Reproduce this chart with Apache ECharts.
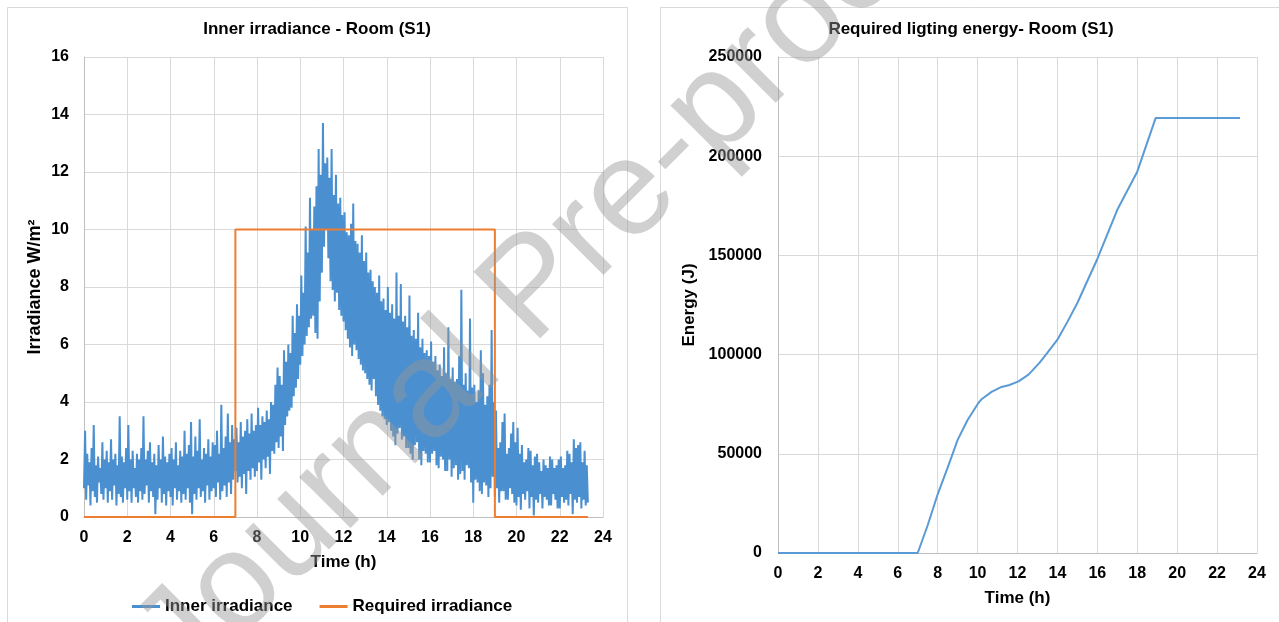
<!DOCTYPE html>
<html>
<head>
<meta charset="utf-8">
<script src="https://cdn.jsdelivr.net/npm/echarts@6/dist/echarts.min.js"></script>
<style>
html,body{margin:0;padding:0;background:#fff}
#main{width:1279px;height:622px}
</style>
</head>
<body>
<div id="main"></div>
<script>
'use strict';
// inner irradiance (W/m2), every 0.05 h starting at 0 h (one row per hour)
var irrStep = 0.05;
var irrValues = [
	1.0, 3.0, 0.6, 2.2, 1.1, 1.9, 0.4, 2.4, 0.9, 3.2, 0.7, 1.8, 0.5, 2.1, 1.2, 1.7, 0.8, 2.6, 0.6, 2.0,
	1.0, 2.3, 0.5, 1.9, 0.9, 2.7, 0.6, 2.0, 1.1, 2.2, 0.4, 1.8, 0.8, 3.5, 0.7, 2.1, 0.5, 1.9, 1.0, 2.4,
	0.6, 3.2, 0.9, 2.0, 0.5, 2.3, 1.0, 1.7, 0.7, 2.2, 0.5, 2.0, 0.9, 2.4, 0.6, 3.5, 0.8, 2.0, 1.1, 2.3,
	0.5, 2.6, 0.9, 1.9, 0.7, 2.2, 0.1, 1.8, 0.6, 2.5, 1.0, 2.0, 0.5, 2.8, 0.8, 2.1, 0.4, 1.9, 0.9, 2.2,
	0.7, 2.4, 0.4, 2.0, 1.0, 2.6, 0.6, 1.8, 0.9, 2.3, 0.5, 2.1, 0.8, 3.0, 0.6, 2.2, 1.0, 2.5, 0.5, 3.3,
	0.1, 2.1, 0.8, 2.8, 0.6, 2.3, 1.0, 3.4, 0.7, 2.0, 0.9, 2.4, 0.5, 2.2, 1.1, 2.7, 0.6, 2.1, 0.9, 2.6,
	1.0, 2.5, 0.7, 3.0, 1.2, 2.2, 0.6, 3.9, 0.9, 2.4, 1.1, 2.8, 0.7, 3.6, 1.2, 2.6, 0.8, 3.2, 1.3, 2.7,
	1.6, 3.1, 1.2, 2.6, 1.4, 3.3, 1.0, 2.8, 1.5, 3.0, 0.8, 3.4, 1.6, 2.9, 1.3, 3.6, 1.7, 3.0, 1.4, 3.2,
	1.6, 3.8, 1.9, 3.2, 1.3, 3.5, 2.0, 3.3, 1.7, 3.7, 2.1, 3.4, 1.5, 4.0, 2.3, 3.9, 2.2, 4.6, 2.6, 5.2,
	2.4, 4.9, 2.8, 4.6, 2.3, 5.8, 3.2, 5.4, 3.5, 6.0, 3.7, 5.7, 3.8, 7.0, 4.2, 6.4, 4.5, 7.4, 4.8, 7.0,
	5.3, 8.4, 5.6, 7.8, 6.0, 10.1, 6.3, 9.2, 6.6, 11.1, 6.9, 10.0, 7.0, 10.8, 6.4, 11.5, 6.2, 12.8, 7.5, 11.9,
	8.5, 13.7, 9.4, 12.3, 10.0, 12.5, 9.0, 11.8, 8.2, 12.8, 7.9, 11.2, 7.5, 11.9, 7.8, 10.9, 7.2, 11.1, 7.0, 10.5,
	6.8, 10.6, 6.5, 9.9, 6.2, 9.8, 5.9, 10.2, 5.6, 10.9, 6.0, 9.6, 5.8, 9.5, 5.5, 9.2, 5.3, 9.8, 5.1, 8.9,
	5.0, 9.2, 4.8, 8.5, 4.6, 8.6, 4.4, 8.2, 4.8, 8.0, 4.2, 7.8, 3.9, 8.4, 3.7, 7.5, 3.5, 7.6, 3.4, 7.2,
	3.2, 8.0, 3.3, 7.1, 3.0, 7.4, 2.8, 6.9, 2.5, 8.5, 2.9, 7.0, 3.1, 8.1, 2.7, 6.8, 2.8, 7.0, 2.4, 6.6,
	2.4, 7.7, 2.2, 6.3, 2.0, 6.5, 2.5, 6.2, 2.6, 7.1, 2.0, 5.9, 1.8, 6.2, 2.3, 5.7, 2.2, 5.8, 1.9, 5.6,
	1.9, 6.1, 2.2, 5.4, 2.3, 5.6, 1.8, 5.1, 1.7, 5.3, 2.1, 4.9, 2.0, 5.9, 1.6, 5.0, 1.6, 6.6, 2.0, 4.8,
	1.4, 5.2, 1.7, 4.7, 1.8, 4.8, 1.3, 5.6, 1.5, 7.9, 1.6, 4.6, 1.3, 5.0, 1.8, 4.4, 1.7, 6.9, 1.2, 4.5,
	0.5, 4.6, 1.3, 4.0, 1.2, 4.4, 0.9, 5.8, 0.8, 5.0, 1.2, 3.9, 1.1, 4.2, 0.7, 4.6, 1.0, 6.5, 1.4, 4.0,
	0.7, 3.7, 1.0, 2.4, 0.5, 2.6, 0.9, 3.3, 0.9, 3.6, 0.6, 2.2, 0.6, 2.4, 1.0, 2.9, 0.8, 3.3, 0.5, 2.6,
	0.4, 3.1, 0.7, 2.2, 0.25, 2.5, 0.8, 1.9, 0.6, 2.0, 0.9, 2.4, 0.3, 2.3, 0.7, 1.8, 0.05, 2.1, 0.6, 2.2,
	0.5, 1.9, 0.8, 1.6, 0.3, 2.0, 0.7, 1.8, 0.6, 1.7, 0.4, 2.1, 0.4, 2.0, 0.8, 1.7, 0.6, 1.8, 0.3, 2.0,
	0.3, 2.1, 0.7, 1.7, 0.5, 1.8, 0.6, 2.3, 0.4, 2.2, 0.8, 1.9, 0.1, 2.7, 0.6, 2.4, 0.5, 2.5, 0.7, 2.6,
	0.3, 1.9, 0.6, 2.3, 0.4, 1.8, 0.5
];
// required irradiance step (W/m2)
var reqTime = [0, 7, 7, 19, 19, 23.3];
var reqValues = [0, 0, 10, 10, 0, 0];
// cumulative required lighting energy (J)
var energyTime = [0, 7, 7.5, 8, 8.5, 8.75, 9, 9.5, 10, 10.2, 10.7, 11.2, 11.6, 12.05, 12.55, 13.1, 13.55, 14, 14.5, 15, 15.3, 16, 17, 18, 18.92, 23.15];
var energyValues = [0, 0, 14000, 29600, 43000, 50000, 57000, 67000, 75000, 77500, 81200, 83700, 84700, 86500, 89900, 95800, 101600, 107500, 116500, 126000, 132700, 148200, 173000, 192200, 219200, 219200];

var titles = ['Inner irradiance - Room (S1)', 'Required ligting energy- Room (S1)'];
var legendNames = ['Inner irradiance', 'Required irradiance'];

var FONT = '"Liberation Sans", Arial, sans-serif';
var gridColor = '#d9d9d9';

function pairs(xs, ys) {
	var out = [];
	for (var i = 0; i < ys.length; i++) {
		out.push([xs[i], ys[i]]);
	}
	return out;
}

var irrData = [];
for (var i = 0; i < irrValues.length; i++) {
	irrData.push([+(i * irrStep).toFixed(2), irrValues[i]]);
}

function hourAxis(gridIndex) {
	return {
		type: 'value',
		gridIndex: gridIndex,
		min: 0,
		max: 24,
		interval: 2,
		name: 'Time (h)',
		nameLocation: 'middle',
		nameGap: 37,
		nameTextStyle: {fontFamily: FONT, fontSize: 17, fontWeight: 'bold', color: '#000'},
		axisLine: {show: true, lineStyle: {color: '#bfbfbf', width: 1}},
		axisTick: {show: false},
		axisLabel: {fontFamily: FONT, fontSize: 16, fontWeight: 'bold', color: '#000', margin: 13},
		splitLine: {show: true, lineStyle: {color: gridColor, width: 1}}
	};
}

var chart = echarts.init(document.getElementById('main'));

var option = {
	animation: false,
	backgroundColor: '#fff',
	grid: [
		{left: 84, top: 57, width: 519, height: 460, outerBoundsMode: 'none'},
		{left: 778, top: 57, width: 479, height: 496, outerBoundsMode: 'none'}
	],
	legend: {
		data: legendNames,
		left: 127,
		top: 593,
		icon: 'rect',
		itemWidth: 28,
		itemHeight: 3,
		itemGap: 27,
		textStyle: {fontFamily: FONT, fontSize: 17, fontWeight: 'bold', color: '#000'}
	},
	xAxis: [hourAxis(0), hourAxis(1)],
	yAxis: [
		{
			type: 'value',
			gridIndex: 0,
			min: 0,
			max: 16,
			interval: 2,
			name: 'Irradiance W/m²',
			nameLocation: 'middle',
			nameGap: 40,
			nameTextStyle: {fontFamily: FONT, fontSize: 18, fontWeight: 'bold', color: '#000'},
			axisLine: {show: true, lineStyle: {color: '#bfbfbf'}},
			axisTick: {show: false},
			axisLabel: {fontFamily: FONT, fontSize: 16, fontWeight: 'bold', color: '#000', margin: 15},
			splitLine: {show: true, lineStyle: {color: gridColor}}
		},
		{
			type: 'value',
			gridIndex: 1,
			min: 0,
			max: 250000,
			interval: 50000,
			name: 'Energy (J)',
			nameLocation: 'middle',
			nameGap: 80,
			nameTextStyle: {fontFamily: FONT, fontSize: 17, fontWeight: 'bold', color: '#000'},
			axisLine: {show: true, lineStyle: {color: '#bfbfbf'}},
			axisTick: {show: false},
			axisLabel: {
				fontFamily: FONT, fontSize: 16, fontWeight: 'bold', color: '#000', margin: 16,
				formatter: function (v) { return String(v); }
			},
			splitLine: {show: true, lineStyle: {color: gridColor}}
		}
	],
	series: [
		{
			name: 'Inner irradiance',
			type: 'line',
			xAxisIndex: 0,
			yAxisIndex: 0,
			showSymbol: false,
			lineStyle: {color: '#4a8fd0', width: 2},
			itemStyle: {color: '#4a8fd0'},
			data: irrData,
			z: 2
		},
		{
			name: 'Required irradiance',
			type: 'line',
			xAxisIndex: 0,
			yAxisIndex: 0,
			showSymbol: false,
			lineStyle: {color: '#ed7d31', width: 2},
			itemStyle: {color: '#ed7d31'},
			data: pairs(reqTime, reqValues),
			z: 3
		},
		{
			name: 'Energy',
			type: 'line',
			xAxisIndex: 1,
			yAxisIndex: 1,
			showSymbol: false,
			lineStyle: {color: '#5b9bd5', width: 2},
			itemStyle: {color: '#5b9bd5'},
			data: pairs(energyTime, energyValues)
		}
	],
	graphic: [
		// panel frames
		{type: 'rect', shape: {x: 7.5, y: 7.5, width: 620, height: 630}, style: {fill: 'none', stroke: '#d9d9d9', lineWidth: 1}, z: -10},
		{type: 'rect', shape: {x: 660.5, y: 7.5, width: 640, height: 630}, style: {fill: 'none', stroke: '#d9d9d9', lineWidth: 1}, z: -10},
		{type: 'text', x: 317, y: 29, style: {text: titles[0], font: 'bold 17px ' + FONT, fill: '#000', align: 'center', verticalAlign: 'middle'}},
		{type: 'text', x: 971, y: 29, style: {text: titles[1], font: 'bold 17px ' + FONT, fill: '#000', align: 'center', verticalAlign: 'middle'}},
		// watermark
		{type: 'text', x: 535, y: 290, rotation: Math.PI / 4, z: 100,
			style: {text: 'Journal Pre-proof', font: 'normal 137px ' + FONT, fill: 'rgba(150,150,150,0.45)', align: 'center', verticalAlign: 'middle'}}
	]
};

chart.setOption(option);
</script>
</body>
</html>
